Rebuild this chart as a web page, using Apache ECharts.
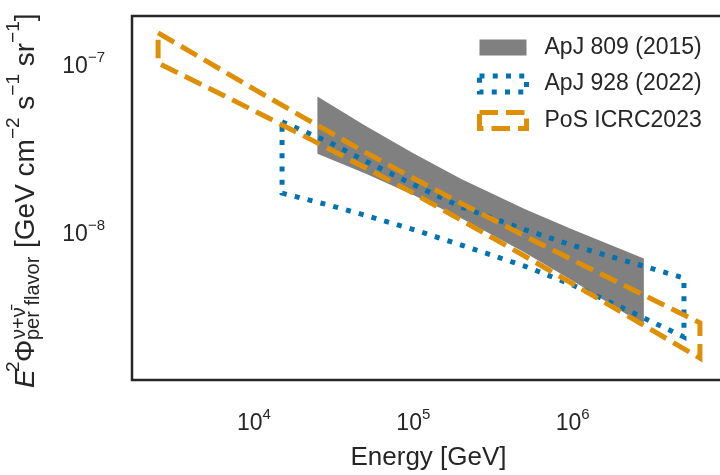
<!DOCTYPE html>
<html>
<head>
<meta charset="utf-8">
<script src="https://cdn.jsdelivr.net/npm/echarts@6/dist/echarts.min.js"></script>
<style>
  html, body { margin: 0; padding: 0; background: #ffffff; }
  #chart { width: 720px; height: 475px; }
</style>
</head>
<body>
<div id="chart"></div>
<script>
// Per-flavor astrophysical neutrino flux bands, E^2 * Phi [GeV cm^-2 s^-1 sr^-1]
// Each band: energies (GeV) with the upper and lower edge of the band.
const names = ['ApJ 809 (2015)', 'ApJ 928 (2022)', 'PoS ICRC2023'];

const apj809Energy = [2.5e4, 5e4, 1e5, 2e5, 5e5, 1e6, 2.8e6];
const apj809Upper  = [6.31e-8, 4.23e-8, 2.90e-8, 2.04e-8, 1.35e-8, 1.02e-8, 6.87e-9];
const apj809Lower  = [2.88e-8, 2.20e-8, 1.64e-8, 1.19e-8, 7.44e-9, 5.05e-9, 2.76e-9];

const apj928Energy = [1.5e4, 3e4, 5e4, 1e5, 2e5, 5e5, 1e6, 2e6, 5e6];
const apj928Upper  = [4.47e-8, 3.36e-8, 2.61e-8, 1.89e-8, 1.39e-8, 1.02e-8, 8.21e-9, 6.77e-9, 5.25e-9];
const apj928Lower  = [1.68e-8, 1.42e-8, 1.24e-8, 1.02e-8, 8.25e-9, 6.18e-9, 4.77e-9, 3.53e-9, 2.34e-9];

const icrcEnergy = [2.5e3, 5e3, 1e4, 2e4, 5e4, 1e5, 2e5, 5e5, 1e6, 2e6, 4e6, 6.3e6];
const icrcUpper  = [1.51e-7, 1.03e-7, 6.99e-8, 4.80e-8, 2.94e-8, 2.06e-8, 1.46e-8, 9.34e-9, 6.72e-9, 4.86e-9, 3.51e-9, 2.84e-9];
const icrcLower  = [1.00e-7, 7.22e-8, 5.20e-8, 3.73e-8, 2.38e-8, 1.68e-8, 1.16e-8, 7.10e-9, 4.85e-9, 3.31e-9, 2.25e-9, 1.75e-9];

// Decades that carry a tick label
const xTickExponents = [4, 5, 6];
const yTickExponents = [-8, -7];

const FONT = '"Liberation Sans", Arial, sans-serif';
const INK = '#262626';

// Closed outline: upper edge left->right, lower edge right->left
function bandPolygon(energy, upper, lower) {
  const pts = energy.map((e, i) => [e, upper[i]]);
  for (let i = energy.length - 1; i >= 0; i--) pts.push([energy[i], lower[i]]);
  return pts;
}

function bandSeries(name, pts, style, z) {
  return {
    type: 'custom',
    name: name,
    coordinateSystem: 'cartesian2d',
    z: z,
    silent: true,
    animation: false,
    data: pts,
    renderItem: function (params, api) {
      if (params.dataIndex !== 0) return null;
      return {
        type: 'polygon',
        shape: { points: pts.map(p => api.coord(p)) },
        style: style
      };
    }
  };
}

function powerLabel(exps) {
  return function (v) {
    const e = Math.log10(v);
    const r = Math.round(e);
    if (Math.abs(e - r) > 1e-6 || exps.indexOf(r) < 0) return '';
    return '{b|10}{s|' + (r < 0 ? '\u2212' + (-r) : r) + '}';
  };
}

const tickRich = {
  b: { fontSize: 23, lineHeight: 33, fontFamily: FONT, color: INK },
  s: { fontSize: 15, lineHeight: 15, verticalAlign: 'top', fontFamily: FONT, color: INK }
};

const chart = echarts.init(document.getElementById('chart'), null, { renderer: 'canvas' });

chart.setOption({
  animation: false,
  backgroundColor: '#ffffff',
  grid: {
    left: 132, top: 16, width: 593, height: 364,
    outerBoundsMode: 'none', containLabel: false,
    show: true, borderColor: INK, borderWidth: 2.5, backgroundColor: 'transparent'
  },
  xAxis: {
    type: 'log', logBase: 10, min: 1714.6, max: 9.05e6,
    axisLine: { show: false }, axisTick: { show: false }, splitLine: { show: false },
    minorTick: { show: false }, minorSplitLine: { show: false },
    axisLabel: { margin: 27, formatter: powerLabel(xTickExponents), rich: tickRich },
    name: 'Energy [GeV]', nameLocation: 'middle', nameGap: 65,
    nameTextStyle: { fontSize: 26, fontFamily: FONT, color: INK }
  },
  yAxis: {
    type: 'log', logBase: 10, min: 1.297e-9, max: 1.905e-7,
    axisLine: { show: false }, axisTick: { show: false }, splitLine: { show: false },
    minorTick: { show: false }, minorSplitLine: { show: false },
    axisLabel: { margin: 27, padding: [7, 0, 0, 0], formatter: powerLabel(yTickExponents), rich: tickRich }
  },
  legend: {
    orient: 'vertical', left: 477, top: 36, padding: 0,
    itemWidth: 47, itemHeight: 16, itemGap: 13.5,
    selectedMode: false,
    textStyle: { fontSize: 23, fontFamily: FONT, color: INK, lineHeight: 16, padding: [0, 0, 0, 13] },
    data: [
      { name: names[0], icon: 'rect', itemStyle: { color: '#808080', borderWidth: 0 } },
      { name: names[1], icon: 'rect', itemStyle: { color: 'rgba(0,0,0,0)', borderColor: '#0173b2', borderWidth: 5, borderType: [5, 8.25] } },
      { name: names[2], icon: 'rect', itemStyle: { color: 'rgba(0,0,0,0)', borderColor: '#de8f05', borderWidth: 5, borderType: [18.5, 8] } }
    ]
  },
  graphic: [{
    type: 'group', x: 35, y: 388, rotation: Math.PI / 2, silent: true,
    children: [
      { type: 'text', x: 0, y: -8.7, style: { text: 'E', font: 'italic 28px ' + FONT, fill: INK, align: 'left', verticalAlign: 'middle' } },
      { type: 'text', x: 16, y: -20.9, style: { text: '2', font: '19px ' + FONT, fill: INK, align: 'left', verticalAlign: 'middle' } },
      { type: 'text', x: 26, y: -8.7, style: { text: '\u03A6', font: '28px ' + FONT, fill: INK, align: 'left', verticalAlign: 'middle' } },
      { type: 'text', x: 49, y: -16, style: { text: '\u03BD+\u03BD\u0304', font: '20px ' + FONT, fill: INK, align: 'left', verticalAlign: 'middle' } },
      { type: 'text', x: 48, y: -2, style: { text: 'per flavor', font: '20px ' + FONT, fill: INK, align: 'left', verticalAlign: 'middle' } },
      { type: 'text', x: 140, y: -8.7, style: {
          text: '[GeV cm{s|\u22122} s{s|\u22121} sr{s|\u22121}]',
          font: '28px ' + FONT, fill: INK, align: 'left', verticalAlign: 'middle', lineHeight: 45,
          rich: { s: { font: '19px ' + FONT, fill: INK, lineHeight: 19, verticalAlign: 'top' } }
      } }
    ]
  }],
  series: [
    bandSeries(names[0], bandPolygon(apj809Energy, apj809Upper, apj809Lower),
      { fill: '#808080', stroke: 'none' }, 1),
    bandSeries(names[1], bandPolygon(apj928Energy, apj928Upper, apj928Lower),
      { fill: 'none', stroke: '#0173b2', lineWidth: 5, lineDash: [5, 8.25] }, 2),
    bandSeries(names[2], bandPolygon(icrcEnergy, icrcUpper, icrcLower),
      { fill: 'none', stroke: '#de8f05', lineWidth: 5, lineDash: [18.5, 8] }, 3)
  ]
});
</script>
</body>
</html>
